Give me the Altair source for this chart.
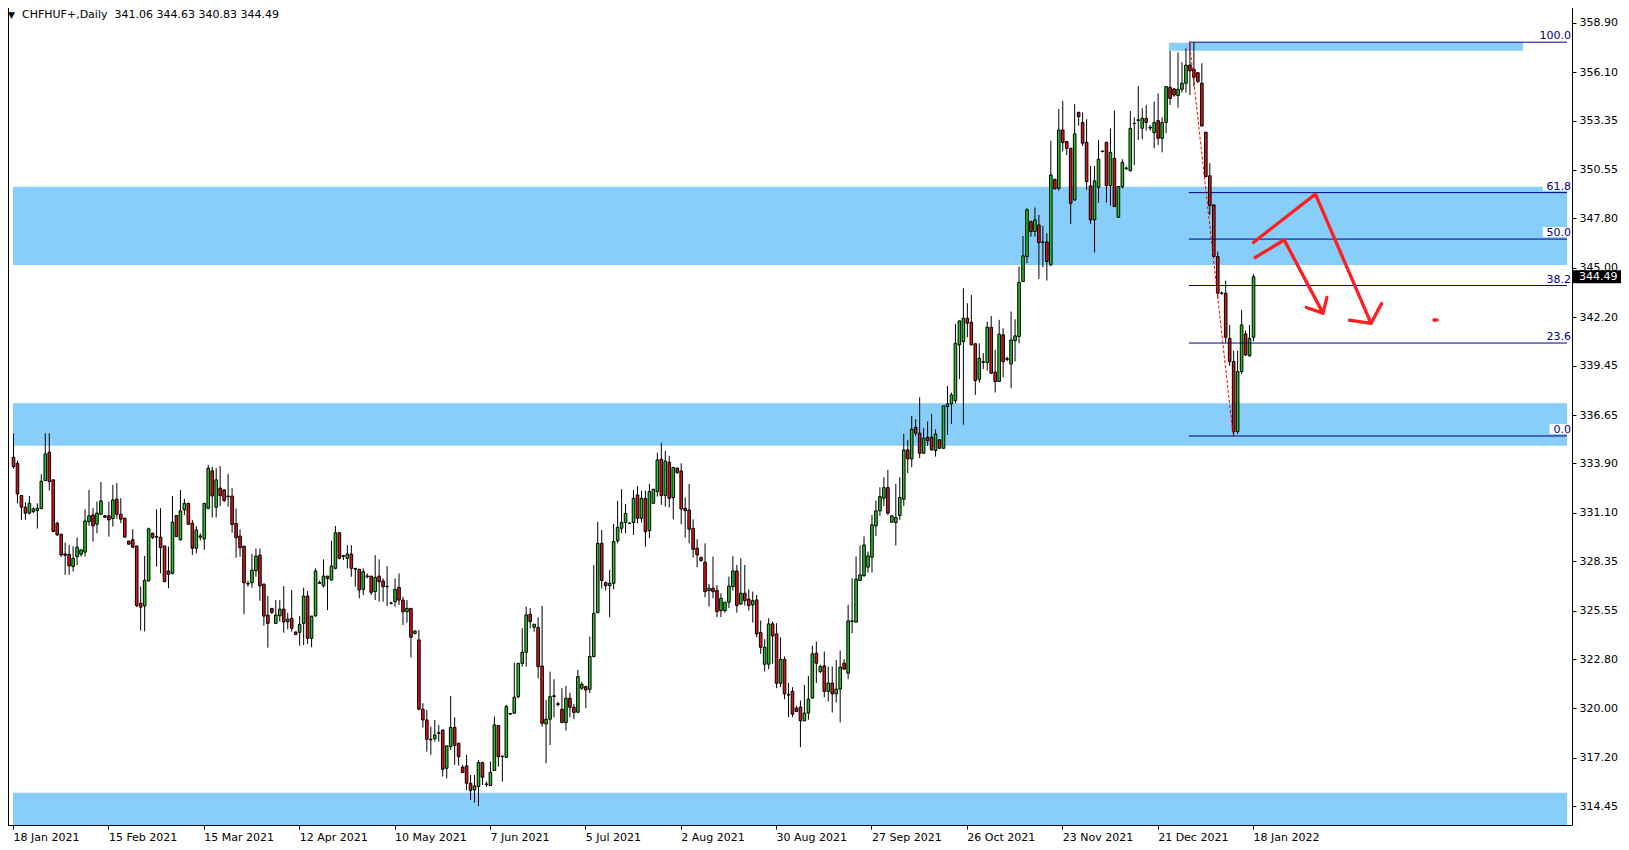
import altair as alt
import pandas as pd

# ---------------- data ----------------
opens = [334.25,333.91,332.08,331.42,331.08,331.17,331.23,331.34,332.93,334.54,
332.97,330.51,329.89,328.77,328.75,328.05,328.62,328.75,328.87,330.6,
330.98,330.45,331.02,330.93,330.93,330.78,331.87,331.02,330.8,329.5,
329.57,329.22,325.97,325.82,327.24,329.94,329.75,329.72,329.22,327.8,
327.67,330.95,329.57,331.27,331.64,330.51,329.09,329.79,329.62,331.36,
333.48,331.42,332.5,332.4,332.05,332.05,330.5,329.78,329.21,327.1,
327.13,327.82,328.7,327.06,325.3,325.68,324.83,325.26,325.64,324.92,
325.11,324.34,324.32,324.83,326.38,323.98,325.26,327.15,326.96,327.51,
327.29,327.95,329.97,328.68,328.52,328.76,327.95,327.9,326.76,327.52,
327.51,326.63,327.51,327.23,326.93,325.99,326.06,326.87,326.15,325.49,
325.68,324.26,323.89,319.96,319.35,318.25,318.29,318.62,318.78,316.61,
317.84,318.93,318.03,316.67,316.74,315.76,315.38,315.57,316.93,315.72,
315.63,316.48,319.03,317.3,317.23,319.72,319.73,320.67,322.56,323.19,
325.34,324.61,324.6,322.41,319.12,319.39,320.72,320.27,319.96,319.2,
320.58,320.07,319.79,321.15,321.24,321.09,322.95,325.44,329.37,327.14,
326.97,327.1,329.51,330.22,330.55,330.52,330.55,332.11,330.79,331.92,
330.09,331.64,332.3,334.14,332.08,333.97,331.96,333.63,333.47,331.36,
331.26,330.22,329.09,328.56,328.3,326.69,326.82,326.69,325.55,325.55,
326.03,326.91,327.8,325.93,326.54,326.2,325.88,326.16,324.31,322.51,
322.51,324.8,324.23,321.43,322.79,320.8,320.97,320.02,320.08,319.3,
319.74,320.59,323.14,322.1,322.42,320.97,321.44,320.83,321.1,322.57,
322.0,324.97,324.9,327.26,327.54,328.02,328.58,330.36,331.21,331.93,
332.53,330.57,330.55,330.95,331.87,334.67,334.16,335.94,335.62,334.48,
335.39,335.39,334.63,335.24,334.76,337.13,337.28,337.47,340.63,340.82,
342.14,341.91,340.69,338.68,339.68,339.63,341.63,339.08,338.55,341.2,
339.85,339.55,340.87,341.1,344.22,345.64,347.62,347.06,347.43,346.47,
346.47,345.17,350.02,349.51,352.82,352.16,351.78,348.85,353.82,353.24,
352.12,349.65,347.72,349.57,351.62,352.12,349.66,351.21,347.87,349.6,
350.66,350.51,353.2,353.36,352.91,353.48,352.97,352.67,353.35,352.35,
353.25,355.24,355.15,354.77,355.13,355.47,356.5,356.26,356.07,355.47,
352.69,350.23,348.57,345.64,343.57,343.56,341.0,339.68,335.71,339.11,
341.25,340.0,341.06]

highs = [335.6,334.06,332.1,331.7,332.06,331.42,331.64,333.29,335.61,335.61,
333.0,330.6,329.9,329.41,329.28,329.2,329.71,329.0,331.3,332.4,
331.36,331.74,332.85,330.98,331.74,332.68,332.78,331.93,330.8,329.5,
330.17,329.22,326.92,328.66,330.26,329.98,331.3,331.36,329.22,329.19,
332.06,330.95,332.4,331.89,331.64,330.7,330.36,329.94,331.64,333.82,
333.72,333.63,333.76,332.45,333.31,332.5,331.35,330.16,329.21,327.25,
328.76,329.08,329.08,327.06,326.38,325.68,326.15,326.15,326.95,325.43,
326.72,324.36,325.24,326.85,326.66,325.24,327.95,327.25,328.46,327.51,
329.52,330.35,329.97,328.7,329.27,329.27,327.95,327.9,327.95,327.66,
327.51,328.7,328.46,327.38,328.08,326.05,327.38,327.66,326.34,326.15,
325.68,324.45,324.45,320.3,319.92,318.97,319.35,319.07,318.78,317.88,
320.71,319.5,318.03,316.8,317.37,316.23,316.23,317.08,316.98,315.85,
316.99,319.54,319.03,317.33,320.2,319.75,322.6,322.56,324.55,325.78,
325.69,324.78,325.17,325.82,320.48,322.09,321.66,320.38,321.15,321.28,
320.9,320.26,322.19,321.52,321.3,324.08,328.14,330.6,330.13,327.2,
327.86,330.47,331.79,332.44,331.6,330.55,332.4,332.62,332.36,332.36,
332.74,332.44,334.51,335.08,334.63,334.33,333.68,333.68,333.91,331.98,
332.74,330.73,329.6,328.62,329.37,327.07,328.62,327.01,326.54,326.03,
327.48,328.65,328.14,328.52,328.14,326.76,326.63,326.44,324.99,323.93,
325.12,324.93,324.84,324.04,322.95,321.44,321.21,320.15,320.45,321.34,
321.85,323.56,323.8,322.48,323.23,322.38,322.38,322.76,323.29,322.8,
325.88,327.39,328.62,329.25,329.76,328.9,330.98,331.8,332.55,333.12,
333.54,330.95,332.74,333.12,335.58,335.24,336.6,336.41,337.66,335.9,
336.28,336.71,335.84,335.28,337.17,338.3,337.92,341.82,341.99,343.84,
342.99,343.46,340.69,340.72,340.16,341.95,342.27,340.35,342.05,341.57,
339.96,342.52,342.08,345.07,346.81,348.38,347.68,348.42,348.0,347.38,
346.96,352.2,350.05,354.01,354.47,352.2,351.8,354.3,353.85,353.82,
353.43,350.78,350.78,352.25,351.65,352.15,352.91,353.92,349.61,351.16,
350.75,353.9,353.54,355.31,354.05,354.24,353.1,354.43,354.9,353.54,
355.3,357.3,355.2,357.22,356.66,357.45,357.73,357.8,356.1,356.6,
352.7,350.93,348.6,345.92,343.65,344.27,341.76,340.3,340.3,342.61,
341.44,341.76,344.63]

lows = [333.6,331.64,330.7,330.7,331.0,331.08,330.21,331.3,332.9,332.36,
330.0,329.8,328.6,327.58,327.58,327.77,328.14,328.62,328.62,330.36,
329.47,329.94,330.98,330.8,329.75,330.32,330.76,330.51,329.72,329.32,
329.1,325.75,324.42,324.37,327.2,329.6,328.05,327.67,327.16,326.82,
327.6,329.75,329.53,330.98,330.41,328.71,328.81,329.53,329.0,331.3,
330.83,330.83,331.49,331.7,331.45,329.97,328.55,328.61,325.34,326.91,
326.85,327.47,326.11,324.7,323.45,325.36,324.79,324.92,324.3,324.49,
324.36,324.17,323.56,323.6,323.66,323.47,325.2,327.1,326.87,325.58,
327.25,327.9,328.46,328.42,327.95,327.47,326.91,326.25,326.44,327.38,
326.44,326.15,326.06,326.06,325.81,325.9,325.77,325.87,324.73,324.87,
322.9,324.2,319.9,318.92,317.55,317.37,318.12,318.12,316.14,316.04,
317.65,316.8,316.76,316.36,315.38,314.81,314.66,314.47,315.66,315.55,
315.63,316.48,316.7,315.85,317.23,319.63,319.73,320.58,322.37,322.37,
324.55,324.36,321.71,318.97,316.89,317.93,319.5,320.11,319.2,318.75,
319.5,319.39,319.73,321.05,320.01,320.87,322.9,325.4,326.82,326.69,
325.18,326.76,329.37,329.94,329.94,330.48,329.85,330.51,330.55,329.18,
329.66,331.64,332.02,331.55,331.45,331.41,330.73,333.3,330.45,329.7,
329.37,328.56,328.01,328.33,326.31,325.78,326.25,325.18,325.18,325.44,
325.69,326.69,325.44,325.87,325.84,325.55,324.87,324.04,323.1,322.1,
322.23,322.53,321.15,321.21,320.53,319.51,319.51,319.83,317.81,319.3,
319.36,320.59,321.44,322.0,320.64,320.4,319.77,320.34,319.21,322.23,
321.66,324.27,324.9,327.26,327.45,327.71,327.71,329.79,330.93,331.49,
330.98,330.55,329.25,330.7,331.49,333.35,333.69,335.46,334.2,334.45,
334.9,334.63,334.29,334.76,334.76,335.52,336.14,337.32,338.68,336.1,
341.06,340.6,337.79,338.49,339.25,339.17,339.0,337.93,338.55,338.79,
339.7,338.17,339.68,340.72,344.2,345.26,346.77,346.77,344.37,345.03,
344.28,345.1,349.45,349.38,351.6,351.4,347.49,348.8,353.07,351.91,
349.42,347.49,345.87,348.7,351.55,348.7,348.53,348.47,347.87,349.5,
350.55,350.46,350.83,352.25,352.29,352.78,352.78,351.78,351.97,351.55,
352.63,354.24,354.7,354.09,354.94,354.94,354.8,355.28,355.5,353.01,
350.15,348.0,345.6,343.27,343.47,340.76,339.44,335.46,335.58,338.98,
340.0,339.98,340.83]

closes = [333.72,332.17,331.42,331.08,331.64,331.32,331.36,332.89,334.44,332.87,
330.04,329.85,328.71,328.69,328.09,328.52,329.15,329.0,330.64,330.93,
330.36,331.08,331.78,330.85,330.7,331.83,331.02,330.74,329.72,329.32,
329.15,325.84,325.75,327.28,330.19,329.7,329.72,329.13,327.2,327.61,
330.57,329.75,331.21,331.64,330.45,329.09,330.13,329.72,331.64,333.63,
332.06,332.97,332.08,331.8,332.01,330.44,329.69,329.12,327.13,327.06,
327.85,328.65,326.96,325.24,324.83,325.45,325.3,325.64,324.92,325.07,
324.55,324.2,324.77,326.38,323.98,325.24,327.8,327.1,327.51,327.38,
328.08,329.97,328.52,328.63,328.76,327.95,327.9,326.72,327.76,327.48,
326.59,327.44,327.19,326.91,326.91,325.97,326.76,326.15,325.49,325.68,
324.04,324.39,319.96,319.35,318.25,318.22,318.5,318.58,316.55,317.88,
318.93,317.9,317.27,316.36,315.76,315.34,315.61,316.93,316.1,315.68,
316.38,319.07,317.27,317.27,320.11,319.68,320.64,322.56,323.19,325.31,
324.93,324.78,322.37,319.16,319.39,320.67,320.68,320.23,319.2,320.58,
320.07,319.77,321.81,321.37,321.05,322.95,325.4,329.37,327.26,326.97,
327.1,329.47,330.28,330.55,331.07,330.5,331.92,330.79,331.92,330.03,
332.3,332.44,334.1,332.08,334.04,331.92,333.68,333.38,331.32,331.23,
330.17,329.03,328.71,328.39,326.63,326.82,326.63,325.5,326.25,326.03,
326.95,327.8,325.84,326.54,326.12,325.84,326.12,324.23,323.47,323.47,
324.8,324.12,321.43,322.79,320.83,320.76,319.68,319.83,319.3,319.74,
320.53,323.1,322.57,322.38,320.97,321.44,320.83,321.1,322.35,322.23,
324.97,324.93,327.34,327.58,329.28,328.66,330.42,331.21,332.02,332.53,
331.08,330.93,330.83,331.97,334.67,334.16,335.84,335.62,334.48,335.33,
335.2,334.67,335.58,334.76,337.17,337.28,337.79,340.72,341.99,342.14,
341.86,340.63,338.61,339.87,339.64,341.63,339.02,338.55,341.23,339.68,
339.81,340.91,341.14,344.18,345.68,348.29,347.06,347.72,346.43,346.44,
345.36,350.27,349.48,352.82,352.1,351.78,348.66,352.6,353.58,352.07,
349.89,347.72,349.93,351.16,351.6,349.66,351.55,348.47,349.61,350.99,
350.62,352.91,353.18,353.4,353.48,353.25,352.93,353.24,352.35,353.24,
355.28,354.61,354.8,355.13,355.47,356.5,356.18,355.81,355.56,353.05,
350.17,348.53,345.64,343.56,343.55,341.06,339.68,335.71,339.11,341.76,
340.06,341.0,344.49]

date_labels = ["18 Jan 2021", "15 Feb 2021", "15 Mar 2021", "12 Apr 2021", "10 May 2021",
               "7 Jun 2021", "5 Jul 2021", "2 Aug 2021", "30 Aug 2021", "27 Sep 2021",
               "26 Oct 2021", "23 Nov 2021", "21 Dec 2021", "18 Jan 2022"]
date_tick_bars = [0, 24, 48, 72, 96, 120, 144, 168, 192, 216, 240, 264, 288, 312]

price_ticks = [358.90, 356.10, 353.35, 350.55, 347.80, 345.00, 342.20, 339.45, 336.65,
               333.90, 331.10, 328.35, 325.55, 322.80, 320.00, 317.20, 314.45]

# supply / demand zones (bar index from, to, price low, high)
zone_k1 = [0, 0, 0, 290.85]
zone_k2 = [391, 391, 391, 379.9]
zone_lo = [345.16, 334.91, 313.39, 357.32]
zone_hi = [349.60, 337.31, 315.22, 357.77]

# Fibonacci retracement
fib_levels = [100.0, 61.8, 50.0, 38.2, 23.6, 0.0]
fib_high = 357.80
fib_low = 335.46
fib_start_bar = 295.85
fib_diag_bars = [296.0, 307.0]

# hand-drawn red arrows (bar index, price)
arrow_seg = [1, 1, 1, 2, 2, 2, 3, 3, 3, 4, 4, 4, 5, 5]
arrow_bar = [312.5, 319.85, 329.6, 325.4, 329.6, 330.6, 312.1, 327.7, 341.7, 336.25, 341.7, 344.35, 357.5, 358.3]
arrow_price = [345.58, 346.58, 342.43, 342.75, 342.43, 343.32, 346.44, 349.18, 341.85, 342.03, 341.85, 342.98, 342.04, 342.04]

header_symbol = "CHFHUF+,Daily"
last_ohlc = [341.06, 344.63, 340.83, 344.49]

# ---------------- chart ----------------
W, H = 1564, 817
PAD_R, PAD_B = 49, 25
X_DOM = [0, 391]
Y_DOM = [313.39, 359.74]
FONT = "DejaVu Sans"
GREEN = "#22c322"
RED = "#d81414"
ZONE = "#87cefa"
NAVY = "#000080"
PX = (Y_DOM[1] - Y_DOM[0]) / H  # price per pixel

xs = alt.Scale(domain=X_DOM, nice=False, zero=False)
ys = alt.Scale(domain=Y_DOM, nice=False, zero=False)

x_axis = alt.Axis(
    orient="bottom", values=date_tick_bars, domain=False, grid=False, title=None,
    tickSize=4, tickColor="black", labelAlign="left", labelBaseline="top", labelPadding=2,
    labelFont=FONT, labelFontSize=11, labelColor="black", labelFlush=False, labelOverlap=False,
    labelExpr="[" + ",".join("'" + d + "'" for d in date_labels) + "][round(datum.value/24)]")
y_axis = alt.Axis(
    orient="right", values=price_ticks, format=".2f", domain=False, grid=False, title=None,
    tickSize=4, tickColor="black", labelPadding=3, labelFont=FONT, labelFontSize=11,
    labelColor="black", labelBaseline="middle", labelFlush=False, labelOverlap=False)

X = lambda f: alt.X(f, type="quantitative", scale=xs, axis=x_axis)
Y = lambda f: alt.Y(f, type="quantitative", scale=ys, axis=y_axis)

df = pd.DataFrame({"k": list(range(len(opens))), "o": opens, "h": highs, "l": lows, "c": closes})
df["dir"] = ["up" if c >= o else "down" for o, c in zip(opens, closes)]

zones = pd.DataFrame({"k1": zone_k1, "k2": zone_k2, "lo": zone_lo, "hi": zone_hi})

fib = pd.DataFrame({"lvl": fib_levels})
fib["p"] = [fib_low + (fib_high - fib_low) * v / 100.0 for v in fib_levels]
fib["txt"] = [f"{v:.1f}" for v in fib_levels]
fib["k1"] = fib_start_bar
fib["k2"] = X_DOM[1]
fib["bx"] = [W - 2 - 6.8 * len(t) for t in fib["txt"]]
fib["b1"] = fib["p"] + 2 * PX
fib["b2"] = fib["p"] + 12 * PX

diag = pd.DataFrame({"k1": [fib_diag_bars[0]], "k2": [fib_diag_bars[1]], "p1": [fib_high], "p2": [fib_low]})

arrows = pd.DataFrame({"seg": arrow_seg, "k": arrow_bar, "p": arrow_price, "ord": list(range(len(arrow_bar)))})

one = pd.DataFrame({"p": [last_ohlc[3]]})
one["p1"] = one["p"] - 6.5 * PX
one["p2"] = one["p"] + 6.5 * PX

zone_layer = alt.Chart(zones).mark_rect(color=ZONE, clip=True).encode(
    x=X("k1"), x2="k2", y=Y("lo"), y2="hi")

wick_layer = alt.Chart(df).mark_rule(color="black", strokeWidth=1, clip=True, xOffset=0.5).encode(
    x=X("k"), y=Y("l"), y2="h")

body_layer = alt.Chart(df).mark_bar(size=2.6, stroke="black", strokeWidth=1, clip=True, xOffset=0.5).encode(
    x=X("k"), y=Y("o"), y2="c",
    color=alt.Color("dir:N", scale=alt.Scale(domain=["up", "down"], range=[GREEN, RED]), legend=None))

fib_lines = alt.Chart(fib).mark_rule(color=NAVY, strokeWidth=1, clip=True).encode(
    x=X("k1"), x2="k2", y=Y("p"))

fib_bg = alt.Chart(fib).mark_rect(color="white").encode(
    x=alt.X("bx:Q", scale=None), x2=alt.value(W), y=Y("b1"), y2="b2")

fib_text = alt.Chart(fib).mark_text(align="right", baseline="alphabetic", dx=-1, dy=-3, font=FONT,
                                    fontSize=11, color=NAVY).encode(
    x=alt.value(W), y=Y("p"), text="txt:N")

diag_layer = alt.Chart(diag).mark_rule(color="red", strokeWidth=1, strokeDash=[3, 2], clip=True).encode(
    x=X("k1"), x2="k2", y=Y("p1"), y2="p2")

arrow_layer = alt.Chart(arrows).mark_line(color="#ff1f1f", strokeWidth=3.3, strokeCap="round",
                                          strokeJoin="round", clip=True).encode(
    x=X("k"), y=Y("p"), detail="seg:N", order="ord:Q")

price_box = alt.Chart(one).mark_rect(color="black").encode(
    y=Y("p1"), y2="p2", x=alt.value(W + 1), x2=alt.value(W + PAD_R))
price_txt = alt.Chart(one).mark_text(align="left", baseline="middle", font=FONT, fontSize=11,
                                     color="white").encode(
    y=Y("p"), x=alt.value(W + 7), text=alt.value(f"{last_ohlc[3]:.2f}"))

border = pd.DataFrame({"a": [0]})
right_line = alt.Chart(border).mark_rule(color="black", strokeWidth=1).encode(
    x=alt.value(W + 0.5), y=alt.value(0), y2=alt.value(H))
bottom_line = alt.Chart(border).mark_rule(color="black", strokeWidth=1).encode(
    x=alt.value(0), x2=alt.value(W + 0.5), y=alt.value(H + 0.5))
left_line = alt.Chart(border).mark_rule(color="black", strokeWidth=1).encode(
    x=alt.value(0.5), y=alt.value(0), y2=alt.value(H))

header_tri = alt.Chart(border).mark_text(align="left", baseline="middle", font=FONT, fontSize=9,
                                         color="black").encode(
    x=alt.value(0), y=alt.value(7), text=alt.value("\u25bc"))
header_txt = alt.Chart(border).mark_text(align="left", baseline="middle", font=FONT, fontSize=11,
                                         color="black").encode(
    x=alt.value(14), y=alt.value(7),
    text=alt.value(header_symbol + "\u00a0\u00a0" + " ".join(f"{v:.2f}" for v in last_ohlc)))

chart = alt.layer(
    zone_layer, wick_layer, body_layer, fib_lines, diag_layer, arrow_layer,
    fib_bg, fib_text, right_line, bottom_line, left_line, price_box, price_txt,
    header_tri, header_txt
).properties(
    width=W, height=H, autosize="none",
    padding={"left": 0, "top": 0, "right": PAD_R, "bottom": PAD_B},
    background="white"
).configure_view(stroke=None)

chart.save("out.html", embed_options={"renderer": "svg", "actions": False})
